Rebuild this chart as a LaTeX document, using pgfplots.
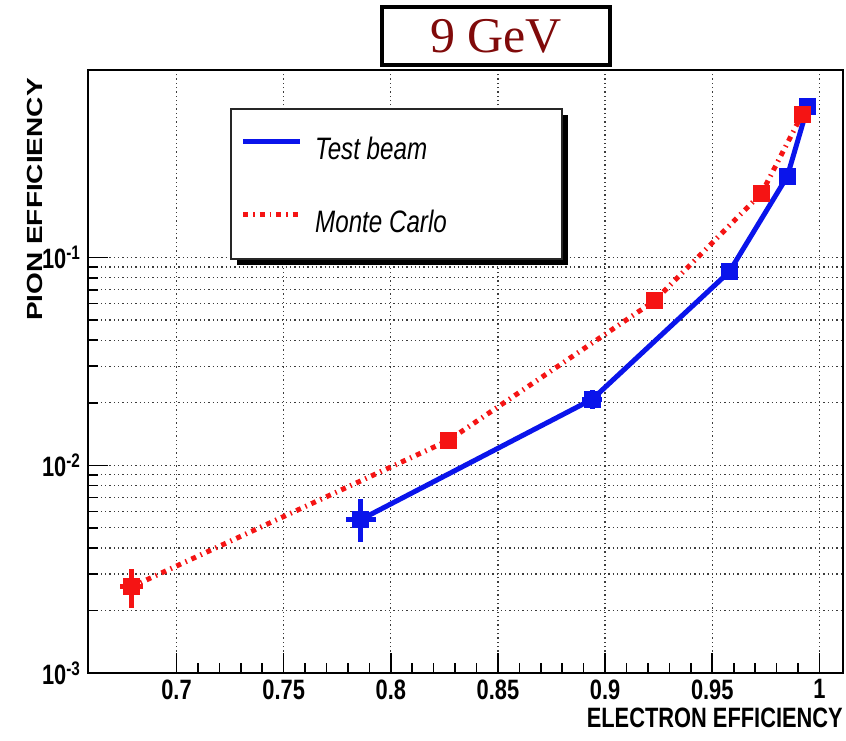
\documentclass[border=0pt]{standalone}
\usepackage{pgfplots}
\pgfplotsset{compat=1.18}
\usepackage{fontspec}
\setmainfont{Liberation Sans}
\newfontfamily\rf[FakeStretch=0.78]{Liberation Sans}
\newfontfamily\rfn{Liberation Sans}
\newfontfamily\tf{Liberation Serif}
\definecolor{tbblue}{RGB}{10,20,235}
\definecolor{mcred}{RGB}{245,20,20}
\definecolor{titred}{RGB}{128,10,10}
\definecolor{gridc}{RGB}{60,60,60}
\begin{document}
\begin{tikzpicture}
\path[use as bounding box] (-88pt,-67pt) rectangle (758pt,673pt);
\begin{axis}[
  at={(0pt,0pt)}, anchor=south west,
  scale only axis, width=755pt, height=603pt,
  xmin=0.6587, xmax=1.011,
  ymode=log, ymin=1e-3, ymax=0.8,
  axis line style={line width=2.2pt, black},
  tick pos=left, tick align=inside,
  major tick length=20pt, minor tick length=10pt,
  every tick/.style={black, line width=1.6pt},
  xtick={0.7,0.75,0.8,0.85,0.9,0.95,1},
  xticklabels={0.7,0.75,0.8,0.85,0.9,0.95,1},
  minor x tick num=4,
  ytick={0.001,0.01,0.1},
  yticklabels={10\textsuperscript{-3},10\textsuperscript{-2},10\textsuperscript{-1}},
  xmajorgrids, ymajorgrids, yminorgrids,
  grid style={gridc, line width=1.3pt, dash pattern=on 1.3pt off 3pt},
  ticklabel style={font=\rf\bfseries\fontsize{28}{28}\selectfont, text=black},
  xticklabel style={yshift=-3pt},
  yticklabel style={xshift=-4pt},
  xlabel={\rf\bfseries\fontsize{28}{28}\selectfont ELECTRON EFFICIENCY},
  xlabel style={at={(axis description cs:1,-0.0746)}, anchor=east, inner sep=0pt},
  ylabel={\scalebox{1}[0.78]{\rfn\bfseries\fontsize{28}{28}\selectfont PION EFFICIENCY}},
  ylabel style={at={(axis description cs:-0.0702,0.9867)}, anchor=east, inner sep=0pt},
  legend style={at={(axis description cs:0.1894,0.9353)}, anchor=north west,
    draw=none, fill=none, inner xsep=0pt, inner ysep=21pt, row sep=36pt,
    font=\rf\itshape\fontsize{31}{31}\selectfont,
    nodes={inner sep=0pt, text height=22pt, text depth=8pt}},
  legend cell align=left,
  legend image code/.code={\path[draw=none,fill=none] (0pt,-8pt) rectangle (84pt,22pt); \draw[#1] (12pt,11pt) -- (69pt,11pt);},
]
% legend frame with shadow
\fill[black] ([shift={(6pt,-6pt)}]axis description cs:0.1894,0.9353) rectangle ([shift={(6pt,-6pt)}]axis description cs:0.6278,0.6866);
\filldraw[fill=white, draw=black!85, line width=1.6pt] (axis description cs:0.1894,0.9353) rectangle (axis description cs:0.6278,0.6866);

\addplot[forget plot, tbblue, line width=5pt, mark=square*, mark size=6pt, mark options={solid},
  error bars/.cd, x dir=both, x explicit, y dir=both, y explicit,
  error mark=none, error bar style={line width=5pt, tbblue}]
  coordinates {
  (0.786,0.00548) += (0.007,0.0014) -= (0.007,0.0012)
  (0.894,0.0208) += (0.0047,0.0023) -= (0.0047,0.0021)
  (0.958,0.0856) += (0.002,0.004) -= (0.002,0.004)
  (0.985,0.246) += (0.001,0.01) -= (0.001,0.01)
  (0.9945,0.531) += (0.001,0.02) -= (0.001,0.02)
  };

\addplot[forget plot, mcred, line width=5pt, dash pattern=on 5pt off 5pt on 1.5pt off 5pt,
  mark=square*, mark size=6pt, mark options={solid},
  error bars/.cd, x dir=both, x explicit, y dir=both, y explicit,
  error mark=none, error bar style={line width=5pt, mcred, solid}]
  coordinates {
  (0.679,0.0026) += (0.0054,0.00058) -= (0.0054,0.00054)
  (0.827,0.0132) += (0.0037,0.0012) -= (0.0037,0.0011)
  (0.923,0.0619) += (0.001,0.002) -= (0.001,0.002)
  (0.973,0.204) += (0.001,0.005) -= (0.001,0.005)
  (0.992,0.491) += (0.001,0.01) -= (0.001,0.01)
  };

\addlegendimage{tbblue, line width=5pt}
\addlegendentry{Test beam}
\addlegendimage{mcred, line width=5pt, dash pattern=on 5pt off 5pt on 1.5pt off 5pt}
\addlegendentry{Monte Carlo}
\end{axis}
% title box
\draw[black, line width=4.5pt, fill=white] (294pt,666pt) rectangle (522pt,608pt);
\node[text=titred, font=\tf\fontsize{50}{50}\selectfont, inner sep=0pt] at (408pt,637pt) {9 GeV};
\end{tikzpicture}
\end{document}
